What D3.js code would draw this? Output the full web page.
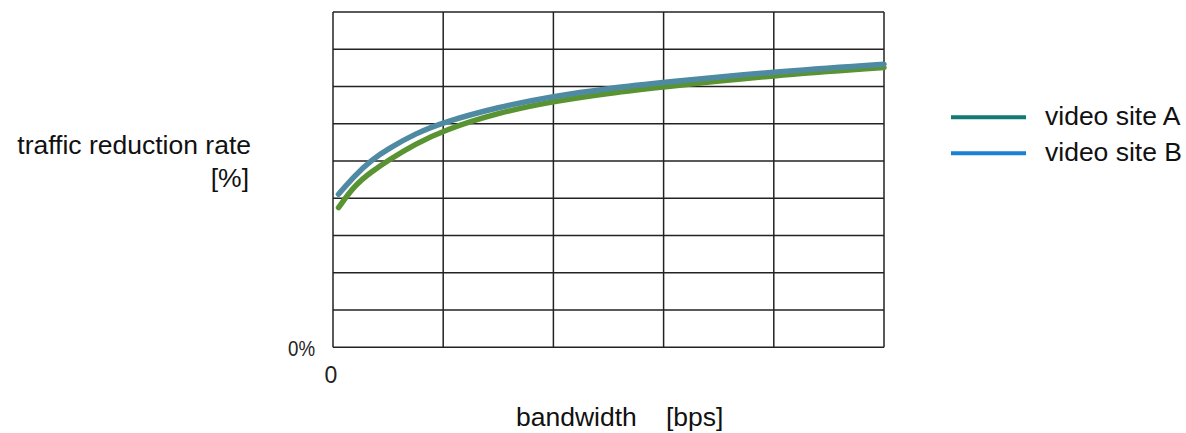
<!DOCTYPE html>
<html>
<head>
<meta charset="utf-8">
<script src="https://cdn.jsdelivr.net/npm/d3@7"></script>
<style>
	html, body { margin: 0; padding: 0; background: #fff; }
	svg { display: block; font-family: "Liberation Sans", Arial, sans-serif; }
</style>
</head>
<body>
<script>
// bandwidth in grid columns (0..5), reduction rate in grid rows (0..9)
const bandwidth = [0.05, 0.2, 0.35, 0.5, 0.75, 1, 1.5, 2, 2.5, 3, 4, 5];
const siteA = [3.75, 4.36, 4.71, 5.02, 5.46, 5.82, 6.3, 6.6, 6.82, 6.99, 7.3, 7.51];
const siteB = [4.11, 4.62, 5.03, 5.33, 5.74, 6.04, 6.45, 6.74, 6.95, 7.11, 7.4, 7.6];
const seriesNames = ["video site A", "video site B"];
const curveColors = ["#5a9432", "#4f8aa3"];
const legendColors = ["#127a74", "#1b80d2"];
const xTicks = d3.range(0, 6);
const yTicks = d3.range(0, 10);

const W = 1186, H = 433;

const svg = d3.select("body").append("svg")
	.attr("width", W)
	.attr("height", H);

const x = d3.scaleLinear().domain([0, 5]).range([333, 884]);
const y = d3.scaleLinear().domain([0, 9]).range([347.3, 12]);

// grid
const grid = svg.append("g")
	.attr("stroke", "#222")
	.attr("stroke-width", 1.5);

grid.selectAll("line.v")
	.data(xTicks)
	.join("line")
	.attr("class", "v")
	.attr("x1", d => x(d)).attr("x2", d => x(d))
	.attr("y1", y(0)).attr("y2", y(9));

grid.selectAll("line.h")
	.data(yTicks)
	.join("line")
	.attr("class", "h")
	.attr("x1", x(0)).attr("x2", x(5))
	.attr("y1", d => y(d)).attr("y2", d => y(d));

// curves
const line = d3.line()
	.x(d => x(d[0]))
	.y(d => y(d[1]))
	.curve(d3.curveBasis);

[siteA, siteB].forEach((vals, i) => {
	svg.append("path")
		.attr("d", line(bandwidth.map((b, j) => [b, vals[j]])))
		.attr("fill", "none")
		.attr("stroke", curveColors[i])
		.attr("stroke-width", 5.5)
		.attr("stroke-linecap", "round");
});

// tick labels
svg.append("text")
	.attr("x", 288).attr("y", 356)
	.attr("font-size", 22)
	.attr("textLength", 27)
	.attr("lengthAdjust", "spacingAndGlyphs")
	.attr("fill", "#222")
	.text("0%");

svg.append("text")
	.attr("x", x(0) - 2).attr("y", 383)
	.attr("text-anchor", "middle")
	.attr("font-size", 23)
	.attr("fill", "#222")
	.text(xTicks[0]);

// axis titles
const yTitle = svg.append("g")
	.attr("font-size", 26.5)
	.attr("fill", "#111")
	.attr("text-anchor", "end");
yTitle.append("text").attr("x", 251).attr("y", 154).text("traffic reduction rate");
yTitle.append("text").attr("x", 249).attr("y", 187).text("[%]");

const xTitle = svg.append("g")
	.attr("font-size", 26.5)
	.attr("fill", "#111");
xTitle.append("text").attr("x", 516).attr("y", 426).text("bandwidth");
xTitle.append("text").attr("x", 666).attr("y", 426).text("[bps]");

// legend
const legend = svg.append("g")
	.selectAll("g")
	.data(seriesNames)
	.join("g")
	.attr("transform", (d, i) => `translate(951, ${117.3 + i * 36})`);

legend.append("line")
	.attr("x1", 0).attr("x2", 75)
	.attr("stroke", (d, i) => legendColors[i])
	.attr("stroke-width", 4);

legend.append("text")
	.attr("x", 94).attr("y", 8)
	.attr("font-size", 26.5)
	.attr("fill", "#111")
	.text(d => d);
</script>
</body>
</html>
